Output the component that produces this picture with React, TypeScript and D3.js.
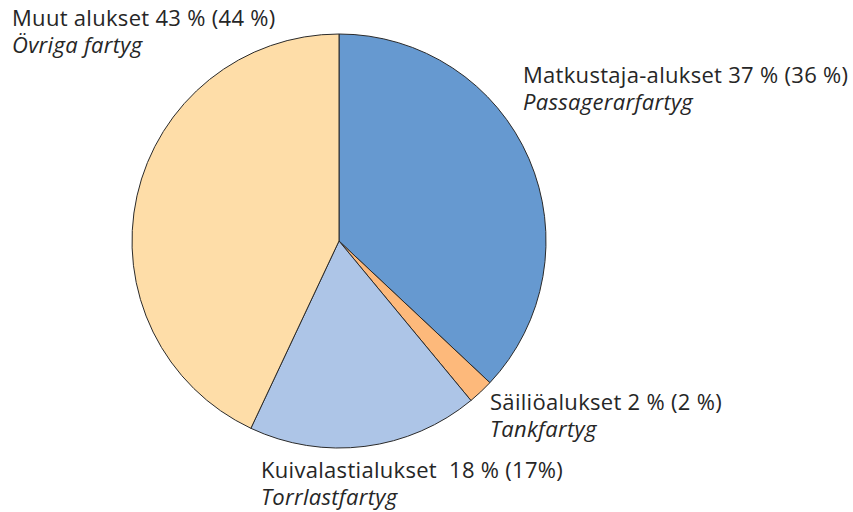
import React from "react";
import * as d3 from "d3";

const categories = ["Matkustaja-alukset", "Säiliöalukset", "Kuivalastialukset", "Muut alukset"];
const values = [37, 2, 18, 43];
const labelMain = [
  "Matkustaja-alukset 37 % (36 %)",
  "Säiliöalukset 2 % (2 %)",
  "Kuivalastialukset  18 % (17%)",
  "Muut alukset 43 % (44 %)",
];
const labelSwedish = ["Passagerarfartyg", "Tankfartyg", "Torrlastfartyg", "Övriga fartyg"];
const colors = ["#6699d0", "#fdb97b", "#adc5e7", "#fedda8"];

const W = 853;
const H = 512;
const cx = 339;
const cy = 241;
const R = 207;

const labelPos: [number, number][] = [
  [523, 83],
  [490, 410],
  [261, 478],
  [12, 26],
];

export default function App() {
  const pie = d3.pie<number>().sort(null).value((d) => d);
  const arcs = pie(values);
  const arc = d3.arc<d3.PieArcDatum<number>>().innerRadius(0).outerRadius(R);
  return (
    <svg
      width={W}
      height={H}
      style={{ position: "absolute", left: 0, top: 0, background: "#fff" }}
      fontFamily="'Open Sans', sans-serif"
    >
      <g transform={`translate(${cx},${cy})`}>
        {arcs.map((a, i) => (
          <path key={categories[i]} d={arc(a) || ""} fill={colors[i]} stroke="#2a2a2a" strokeWidth={1} />
        ))}
      </g>
      {labelMain.map((t, i) => (
        <g key={t} fill="#262626">
          <text
            x={labelPos[i][0]}
            y={labelPos[i][1]}
            fontSize={22}
            letterSpacing={0.3}
            style={{ whiteSpace: "pre" }}
          >
            {t}
          </text>
          <text
            x={labelPos[i][0]}
            y={labelPos[i][1] + 26.5}
            fontSize={22}
            letterSpacing={0.3}
            fontStyle="italic"
          >
            {labelSwedish[i]}
          </text>
        </g>
      ))}
    </svg>
  );
}
